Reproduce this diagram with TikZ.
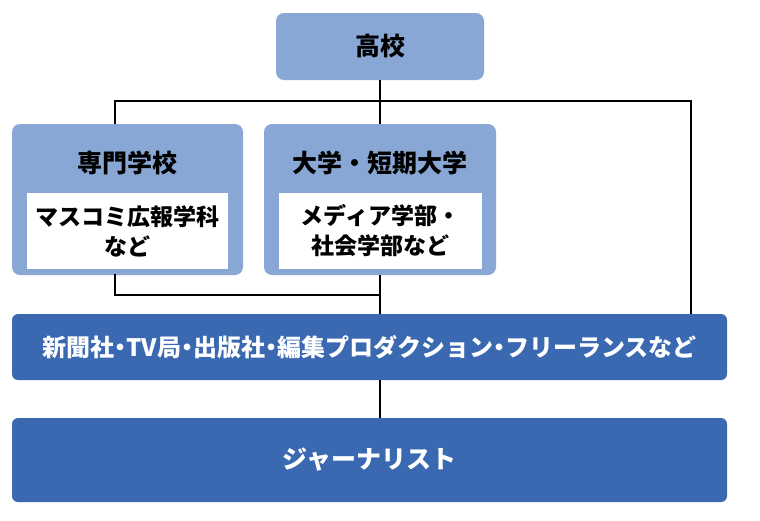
\documentclass[tikz,border=0pt]{standalone}
\usepackage{fontspec}
\setmainfont{Noto Sans CJK JP}
\definecolor{lightb}{HTML}{88A7D4}
\definecolor{darkb}{HTML}{3A69B2}
\tikzset{
  lbox/.style={fill=lightb, rounded corners=8pt, inner sep=0pt},
  dbox/.style={fill=darkb, rounded corners=6pt, inner sep=0pt, text=white, font=\bfseries\fontsize{24}{28}\selectfont},
  wbox/.style={fill=white, inner sep=0pt, align=center, font=\bfseries\fontsize{23}{30}\selectfont},
  ttl/.style={font=\bfseries\fontsize{25}{28}\selectfont, inner sep=0pt},
  conn/.style={line width=2pt, draw=black}
}
\begin{document}
\begin{tikzpicture}[x=1pt,y=-1pt]
\useasboundingbox (0,0) rectangle (760,520);
\node[lbox, minimum width=208pt, minimum height=67pt, font=\bfseries\fontsize{25}{28}\selectfont] (koko) at (380,46.5) {高校};
\node[lbox, minimum width=231pt, minimum height=151pt] (senmon) at (127.5,199.5) {};
\node[ttl] (senmonT) at (127.5,163) {専門学校};
\node[wbox, minimum width=201pt, minimum height=76pt] (senmonI) at (127.5,231) {マスコミ広報学科\\など};
\node[lbox, minimum width=232pt, minimum height=151pt] (daigaku) at (380,199.5) {};
\node[ttl] (daigakuT) at (380,163) {大学・短期大学};
\node[wbox, minimum width=203pt, minimum height=76pt] (daigakuI) at (380.5,231) {メディア学部・\\社会学部など};
\node[dbox, minimum width=715pt, minimum height=66pt] (media) at (369.5,347) {新聞社{\kern-0.25em}・{\kern-0.25em}TV局{\kern-0.25em}・{\kern-0.25em}出版社{\kern-0.25em}・{\kern-0.25em}編集プロダクション{\kern-0.25em}・{\kern-0.25em}フリーランスなど};
\node[dbox, minimum width=715pt, minimum height=84pt, font=\bfseries\fontsize{25}{28}\selectfont] (journ) at (369.5,460) {ジャーナリスト};
\coordinate (hl) at (115,101);
\coordinate (hr) at (691,101);
\coordinate (bl) at (115,295);
\coordinate (vm) at (380,380);
\draw[conn] (koko.south) -- (koko.south |- daigaku.north);
\draw[conn, line cap=rect] (hl) -- (hr);
\draw[conn] (hl) -- (hl |- senmon.north);
\draw[conn] (hr) -- (hr |- media.north);
\draw[conn, line cap=rect] (bl |- senmon.south) -- (bl) -- (bl -| daigaku.south);
\draw[conn] (daigaku.south) -- (daigaku.south |- media.north);
\draw[conn] (vm |- media.south) -- (vm |- journ.north);
\end{tikzpicture}
\end{document}
